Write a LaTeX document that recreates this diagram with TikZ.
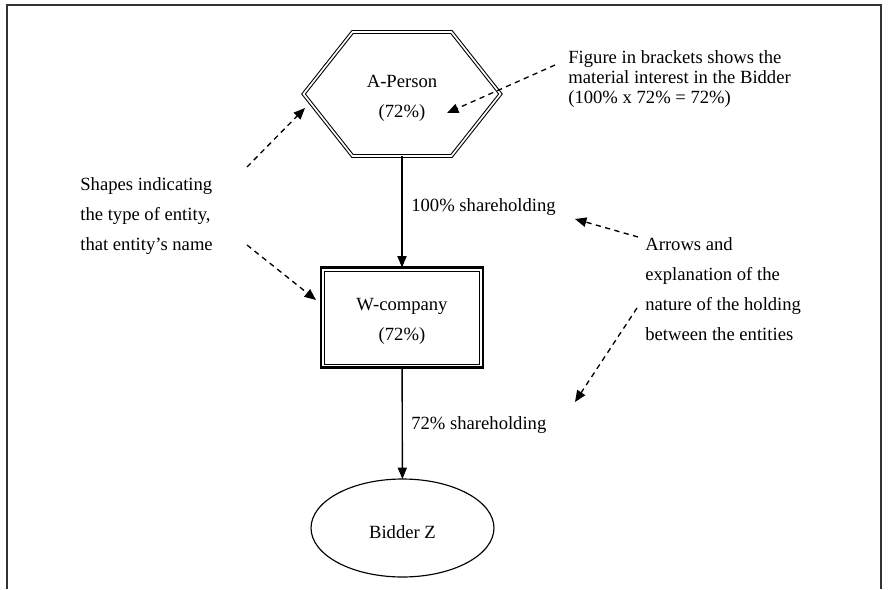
\documentclass[tikz,border=0pt]{standalone}
\usepackage{fontspec}
\setmainfont{Liberation Serif}
\usetikzlibrary{shapes,arrows.meta,positioning}
\newcommand{\dropstrut}{\rule{0pt}{11.5pt}}

\begin{document}
\begin{tikzpicture}
  [
    x=0.02cm, y=-0.02cm,
    every node/.style={font=\fontsize{10.6}{17}\selectfont},
    Hex/.style={rectangle, minimum width=3.94cm, minimum height=2.48cm, inner sep=0pt, outer sep=0pt, align=center},
    HexLine/.style={draw, double, line width=0.6pt, double distance=0.95pt, line join=miter},
    Box/.style={rectangle, draw, line width=1.25pt, minimum width=3.24cm, minimum height=2cm, outer sep=0pt, align=center},
    Oval/.style={ellipse, draw, line width=0.65pt, minimum width=3.66cm, minimum height=1.96cm, outer sep=0pt},
    Note/.style={align=left, inner sep=0pt, anchor=west},
    Hold/.style={-{Triangle[length=6.5pt, width=5.2pt]}, line width=0.8pt},
    Hint/.style={-{Triangle[length=6.5pt, width=5.4pt]}, dash pattern=on 3pt off 2.5pt, line width=0.75pt},
    Frame/.style={draw=black!80, line width=1.1pt}
  ]
  \useasboundingbox (0,0) rectangle (890,589);
  % Frame
  \path[Frame] (7,589) -- (7,5) -- (881,5) -- (881,589);
  % Entities
  \node[Hex] (person) at (402,94) {\dropstrut A-Person\\(72\%)};
  \path[HexLine] ([xshift=0.98cm]person.north west) -- ([xshift=-0.98cm]person.north east)
    -- (person.east) -- ([xshift=-0.98cm]person.south east)
    -- ([xshift=0.98cm]person.south west) -- (person.west) -- cycle;
  \node[Box] (company) at (402,317.5) {\dropstrut W-company\\(72\%)};
  \draw[line width=0.5pt] ([shift={(3.5,3.5)}]company.north west) rectangle ([shift={(-3.5,-3.5)}]company.south east);
  \node[Oval] (bidder) at (402.5,528) {\dropstrut Bidder Z};
  % Holdings
  \draw[Hold] (person) -- (company);
  \draw[Hold] (company) -- (bidder);
  \node[Note] (hold1) at (411,207) {100\% shareholding};
  \node[Note] (hold2) at (411,425) {72\% shareholding};
  % Notes
  \node[Note] (shapes) at (80,216) {Shapes indicating\\the type of entity,\\that entity’s name};
  \node[Note] (arrows) at (645,289) {Arrows and\\explanation of the\\nature of the holding\\between the entities};
  \node[Note, font=\fontsize{10.6}{11.6}\selectfont] (figure) at (568,79) {Figure in brackets shows the\\material interest in the Bidder\\(100\% x 72\% = 72\%)};
  \coordinate (shapesA) at (247,167);
  \coordinate (hexTip) at (305,108);
  \coordinate (shapesB) at (247,245);
  \coordinate (boxTip) at (316,300);
  \coordinate (figFrom) at (555,65);
  \coordinate (pctTip) at (447,113);
  \coordinate (arrowsA) at (638,237);
  \coordinate (holdTip1) at (575,219);
  \coordinate (arrowsB) at (637,308);
  \coordinate (holdTip2) at (575,402);
  \draw[Hint] (shapesA) -- (hexTip);
  \draw[Hint] (shapesB) -- (boxTip);
  \draw[Hint] (figFrom) -- (pctTip);
  \draw[Hint] (arrowsA) -- (holdTip1);
  \draw[Hint] (arrowsB) -- (holdTip2);
\end{tikzpicture}
\end{document}
